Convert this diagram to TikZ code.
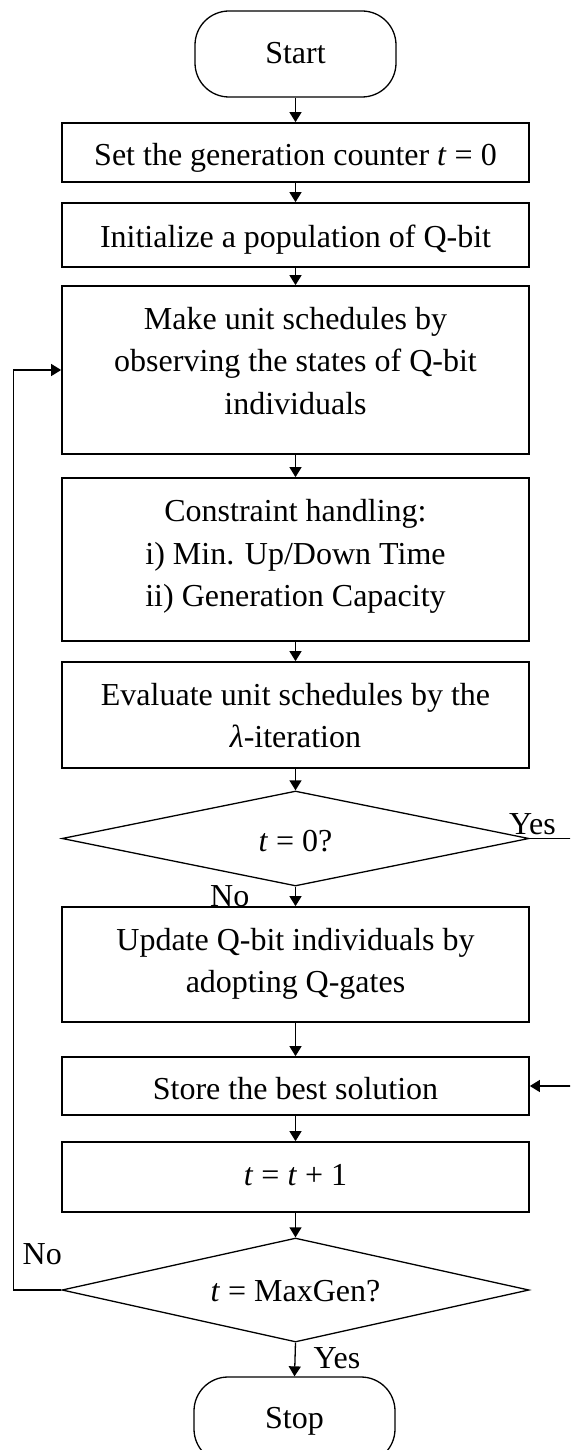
\documentclass[tikz,border=0pt]{standalone}
\usepackage{fontspec}
\setmainfont{Liberation Serif}
\usetikzlibrary{shapes.geometric,arrows.meta}
\begin{document}
\begin{tikzpicture}[x=1pt,y=-1pt,
  box/.style={draw, line width=1.7pt, rectangle, minimum width=467pt, inner sep=0pt},
  dia/.style={draw, line width=1.3pt, diamond, aspect=4.5, minimum width=467pt, inner sep=0pt},
  term/.style={draw, line width=1.3pt, rectangle, rounded corners=34pt, minimum width=201pt, minimum height=86pt, inner sep=0pt},
  txt/.style={font=\fontsize{32}{42.5}\selectfont, inner sep=0pt, align=center},
  arr/.style={-{Triangle[length=10pt,width=12pt]}, line width=1.3pt}]
\useasboundingbox (0,0) rectangle (570,1450);
\clip (0,0) rectangle (570,1450);
% shapes
\node[term] (start) at (295.5,54) {};
\node[box, minimum height=59pt] (b1) at (295.5,152.5) {};
\node[box, minimum height=64pt] (b2) at (295.5,235) {};
\node[box, minimum height=168pt] (b3) at (295.5,370) {};
\node[box, minimum height=163pt] (b4) at (295.5,559.5) {};
\node[box, minimum height=106pt] (b5) at (295.5,715) {};
\node[dia, minimum height=95pt] (d1) at (295.5,838.5) {};
\node[box, minimum height=115pt] (b6) at (295.5,964.5) {};
\node[box, minimum height=58pt] (b7) at (295.5,1086) {};
\node[box, minimum height=70pt] (b8) at (295.5,1177) {};
\node[dia, minimum height=104pt] (d2) at (295.5,1290) {};
\node[term] (stop) at (294.5,1420) {};
% texts
\node[txt, anchor=base] (ts) at (295.5,64) {Start};
\node[txt, anchor=base] (t1) at (295.5,166) {Set the generation counter \textit{t} = 0};
\node[txt, anchor=base] (t2) at (295.5,247) {Initialize a population of Q-bit};
\node[txt, anchor=north] (t3) at (295.5,299.25) {\strut Make unit schedules by\\observing the states of Q-bit\\individuals};
\node[txt, anchor=north] (t4) at (295.5,492) {\strut Constraint handling:\\i) Min. Up/Down Time\\ii) Generation Capacity};
\node[txt, anchor=north] (t5) at (295.5,675.25) {\strut Evaluate unit schedules by the\\\textit{λ}-iteration};
\node[txt, anchor=base] (td1) at (295.5,851.7) {\textit{t} = 0?};
\node[txt, anchor=north] (t6) at (295.5,920.25) {\strut Update Q-bit individuals by\\adopting Q-gates};
\node[txt, anchor=base] (t7) at (295.5,1099) {Store the best solution};
\node[txt, anchor=base] (t8) at (295.5,1185) {\textit{t} = \textit{t} + 1};
\node[txt, anchor=base] (td2) at (295.5,1301.7) {\textit{t} = MaxGen?};
\node[txt, anchor=base] (tstop) at (294.5,1428.5) {Stop};
% labels
\node[txt, anchor=base west] (yes1) at (509,834) {Yes};
\node[txt, anchor=base west] (no1) at (210,906.7) {No};
\node[txt, anchor=base west] (no2) at (22.5,1264) {No};
\node[txt, anchor=base west] (yes2) at (313.5,1368) {Yes};
% connectors
\draw[arr] (start.south) -- (b1.north);
\draw[arr] (b1.south) -- (b2.north);
\draw[arr] (b2.south) -- (b3.north);
\draw[arr] (b3.south) -- (b4.north);
\draw[arr] (b4.south) -- (b5.north);
\draw[arr] (b5.south) -- (d1.north);
\draw[arr] (d1.south) -- (b6.north);
\draw[arr] (b6.south) -- (b7.north);
\draw[arr] (b7.south) -- (b8.north);
\draw[arr] (b8.south) -- (d2.north);
\draw[arr] (d2.south) -- (stop.north);
\coordinate (loopL) at (13.5,1290);
\coordinate (yesR) at (572,838.5);
\draw[arr] (d2.west) -- (loopL) |- (b3.west);
\draw[arr] (d1.east) -- (yesR) |- (b7.east);
\end{tikzpicture}
\end{document}
